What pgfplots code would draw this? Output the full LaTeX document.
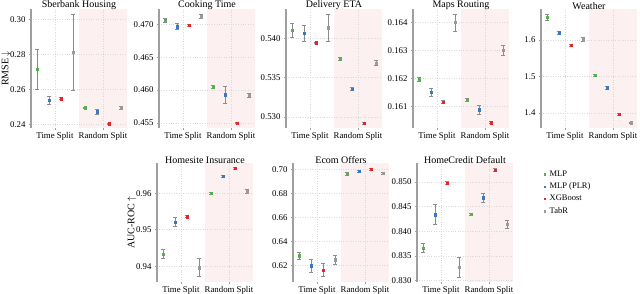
\documentclass[border=0pt]{standalone}
\usepackage{pgfplots}
\pgfplotsset{compat=1.18}
\usepackage{fontspec}
\setmainfont{Liberation Serif}
\definecolor{cmlp}{HTML}{55B04F}
\definecolor{cplr}{HTML}{3C78C0}
\definecolor{cxgb}{HTML}{E3262B}
\definecolor{ctabr}{HTML}{9A9A9A}
\definecolor{shadec}{HTML}{FDF0F1}
\definecolor{errc}{HTML}{8C8C8C}
\pgfplotsset{
  /pgf/number format/assume math mode=true,
  panel/.style={
    scale only axis, width=96pt, height=119pt,
    xmin=-0.5, xmax=1.5,
    xtick={0,1}, xticklabels={Time Split, Random Split},
    axis x line*=bottom, axis y line*=left,
    x axis line style={draw=none},
    y axis line style={draw=gray!75, line width=1.1pt},
    tick align=outside, major tick length=2pt,
    tick style={gray!75, line width=0.5pt},
    grid=major, grid style={dotted, gray!30, line width=0.5pt},
    ticklabel style={font=\fontsize{8.8}{10}\selectfont},
    title style={font=\fontsize{10}{12}\selectfont, yshift=-10pt},
    label style={font=\fontsize{10}{12}\selectfont},
    ylabel style={yshift=-7pt},
    xticklabel style={yshift=1pt},
    axis background/.style={draw=none, path picture={\fill[shadec] (path picture bounding box.south) rectangle (path picture bounding box.north east);}},
    every axis plot/.append style={only marks, mark=square*, mark size=1.2pt,
      /pgfplots/error bars/y dir=both, /pgfplots/error bars/y explicit,
      /pgfplots/error bars/error bar style={errc, line width=0.7pt},
      /pgfplots/error bars/error mark options={errc, rotate=90, mark size=2.3pt, line width=0.7pt}},
  },
  mlp/.style={color=cmlp, mark options={fill=cmlp, draw=cmlp}},
  plr/.style={color=cplr, mark options={fill=cplr, draw=cplr}},
  xgb/.style={color=cxgb, mark options={fill=cxgb, draw=cxgb}},
  tabr/.style={color=ctabr, mark options={fill=ctabr, draw=ctabr}},
  prec/.style={yticklabel style={/pgf/number format/.cd, fixed, fixed zerofill, precision=#1}},
}
\begin{document}
\begin{tikzpicture}
\useasboundingbox (0pt,0pt) rectangle (640pt,294pt);
% Sberbank Housing
\begin{axis}[panel, at={(31pt,166pt)}, anchor=south west, title={Sberbank Housing},
  ylabel={RMSE $\downarrow$}, ymin=0.238, ymax=0.306, ytick={0.24,0.26,0.28,0.30}, prec=2]
\addplot[mlp] coordinates {(-0.375,0.2715) +- (0,0.0115) (0.625,0.2495) +- (0,0.0005)};
\addplot[plr] coordinates {(-0.125,0.2539) +- (0,0.0022) (0.875,0.2472) +- (0,0.0013)};
\addplot[xgb] coordinates {(0.125,0.2548) +- (0,0.0005) (1.125,0.2404) +- (0,0.0004)};
\addplot[tabr] coordinates {(0.375,0.2812) +- (0,0.0218) (1.375,0.2495) +- (0,0.0007)};
\end{axis}
% Cooking Time
\begin{axis}[panel, at={(159pt,166pt)}, anchor=south west, title={Cooking Time},
  ymin=0.4542, ymax=0.4724, ytick={0.455,0.460,0.465,0.470}, prec=3]
\addplot[mlp] coordinates {(-0.375,0.47072) +- (0,0.0003) (0.625,0.46047) +- (0,0.0002)};
\addplot[plr] coordinates {(-0.125,0.46969) +- (0,0.00045) (0.875,0.45928) +- (0,0.00124)};
\addplot[xgb] coordinates {(0.125,0.4699) +- (0,0.0001) (1.125,0.45495) +- (0,0.0001)};
\addplot[tabr] coordinates {(0.375,0.47124) +- (0,0.0003) (1.375,0.45925) +- (0,0.0003)};
\end{axis}
% Delivery ETA
\begin{axis}[panel, at={(286pt,166pt)}, anchor=south west, title={Delivery ETA},
  ymin=0.5286, ymax=0.5437, ytick={0.530,0.535,0.540}, prec=3]
\addplot[mlp] coordinates {(-0.375,0.54103) +- (0,0.0009) (0.625,0.53741) +- (0,0.0002)};
\addplot[plr] coordinates {(-0.125,0.5406) +- (0,0.001) (0.875,0.53353) +- (0,0.0002)};
\addplot[xgb] coordinates {(0.125,0.5394) +- (0,0.0001) (1.125,0.52918) +- (0,0.0001)};
\addplot[tabr] coordinates {(0.375,0.54134) +- (0,0.0017) (1.375,0.53685) +- (0,0.0003)};
\end{axis}
% Maps Routing
\begin{axis}[panel, at={(413pt,166pt)}, anchor=south west, title={Maps Routing},
  ymin=0.16024, ymax=0.16448, ytick={0.161,0.162,0.163,0.164}, prec=3]
\addplot[mlp] coordinates {(-0.375,0.16198) +- (0,0.00008) (0.625,0.16124) +- (0,0.00005)};
\addplot[plr] coordinates {(-0.125,0.16151) +- (0,0.00014) (0.875,0.16089) +- (0,0.00016)};
\addplot[xgb] coordinates {(0.125,0.16116) +- (0,0.00005) (1.125,0.16043) +- (0,0.00004)};
\addplot[tabr] coordinates {(0.375,0.16400) +- (0,0.0003) (1.375,0.16302) +- (0,0.00018)};
\end{axis}
% Weather
\begin{axis}[panel, at={(541pt,166pt)}, anchor=south west, title={Weather},
  ymin=1.359, ymax=1.685, ytick={1.4,1.5,1.6}, prec=1]
\addplot[mlp] coordinates {(-0.375,1.662) +- (0,0.009) (0.625,1.5037) +- (0,0.003)};
\addplot[plr] coordinates {(-0.125,1.620) +- (0,0.005) (0.875,1.4694) +- (0,0.004)};
\addplot[xgb] coordinates {(0.125,1.585) +- (0,0.003) (1.125,1.3963) +- (0,0.003)};
\addplot[tabr] coordinates {(0.375,1.601) +- (0,0.005) (1.375,1.373) +- (0,0.002)};
\end{axis}
% Homesite Insurance
\begin{axis}[panel, at={(157pt,12pt)}, anchor=south west, title={Homesite Insurance},
  ylabel={AUC-ROC $\uparrow$}, ymin=0.93565, ymax=0.96833, ytick={0.94,0.95,0.96}, prec=2]
\addplot[mlp] coordinates {(-0.375,0.94333) +- (0,0.0012) (0.625,0.9600) +- (0,0.0003)};
\addplot[plr] coordinates {(-0.125,0.95213) +- (0,0.0012) (0.875,0.96463) +- (0,0.0003)};
\addplot[xgb] coordinates {(0.125,0.95361) +- (0,0.0003) (1.125,0.96685) +- (0,0.0002)};
\addplot[tabr] coordinates {(0.375,0.93963) +- (0,0.0025) (1.375,0.96046) +- (0,0.0005)};
\end{axis}
% Ecom Offers
\begin{axis}[panel, at={(293pt,12pt)}, anchor=south west, title={Ecom Offers},
  ymin=0.6062, ymax=0.7053, ytick={0.62,0.64,0.66,0.68,0.70}, prec=2]
\addplot[mlp] coordinates {(-0.375,0.6281) +- (0,0.0027) (0.625,0.6961) +- (0,0.001)};
\addplot[plr] coordinates {(-0.125,0.6197) +- (0,0.0055) (0.875,0.6983) +- (0,0.001)};
\addplot[xgb] coordinates {(0.125,0.6161) +- (0,0.0056) (1.125,0.7000) +- (0,0.0012)};
\addplot[tabr] coordinates {(0.375,0.6248) +- (0,0.0036) (1.375,0.6969) +- (0,0.0008)};
\end{axis}
% HomeCredit Default
\begin{axis}[panel, at={(417pt,12pt)}, anchor=south west, title={HomeCredit Default},
  ymin=0.8297, ymax=0.8538, ytick={0.830,0.835,0.840,0.845,0.850}, prec=3,
  legend cell align=left,
  legend style={at={(1.29,0.97)}, anchor=north west, draw=none, fill=none,
    font=\fontsize{8.5}{10}\selectfont, row sep=1pt, column sep=2pt},
  legend image post style={mark size=0.8pt}]
\addplot[mlp] coordinates {(-0.375,0.83658) +- (0,0.00096) (0.625,0.8434) +- (0,0.0003)};
\addlegendentry{MLP}
\addplot[plr] coordinates {(-0.125,0.84335) +- (0,0.002) (0.875,0.84677) +- (0,0.0009)};
\addlegendentry{MLP (PLR)}
\addplot[xgb] coordinates {(0.125,0.84973) +- (0,0.0003) (1.125,0.8524) +- (0,0.0003)};
\addlegendentry{XGBoost}
\addplot[tabr] coordinates {(0.375,0.83268) +- (0,0.002) (1.375,0.84137) +- (0,0.0009)};
\addlegendentry{TabR}
\end{axis}
\end{tikzpicture}
\end{document}
